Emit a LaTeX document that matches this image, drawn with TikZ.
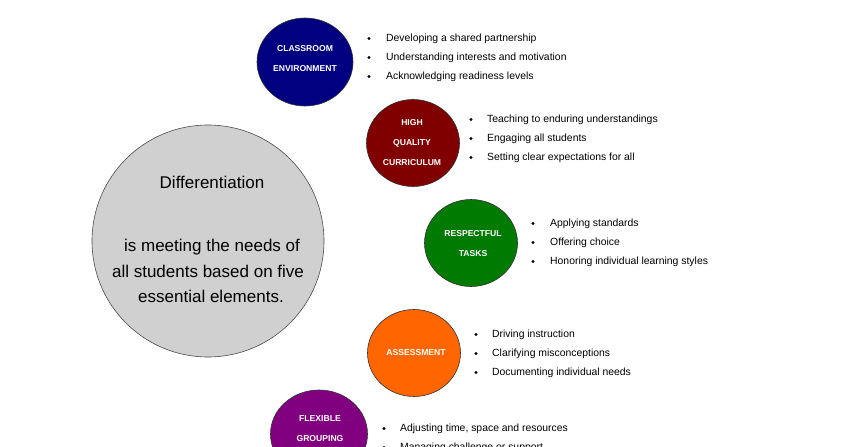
\documentclass[tikz,border=0pt]{standalone}
\usepackage{fontspec}
\setmainfont{Liberation Sans}
\usetikzlibrary{shapes.geometric}
\definecolor{cnavy}{HTML}{000080}
\definecolor{cmaroon}{HTML}{800000}
\definecolor{cgreen}{HTML}{007A00}
\definecolor{corange}{HTML}{FF6600}
\definecolor{cpurple}{HTML}{800080}
\definecolor{cgray}{HTML}{D0D0D0}
\begin{document}
\begin{tikzpicture}[x=1pt,y=-1pt,
  elem/.style={ellipse, draw=black!80, line width=0.6pt, minimum width=94pt, minimum height=88pt, inner sep=0pt},
  elabel/.style={text=white, font=\bfseries\fontsize{8.6}{20}\selectfont, align=center, inner sep=0pt},
  bigtext/.style={font=\fontsize{17}{20}\selectfont, inner sep=0pt, text height=12pt, text depth=3.5pt},
  item/.style={anchor=west, font=\fontsize{10.4}{12}\selectfont, inner sep=0pt, text height=7.5pt, text depth=2.2pt},
  dot/.style={circle, fill=black, inner sep=0pt, minimum size=3.4pt}]
\useasboundingbox (0,0) rectangle (852,447);
\fill[white] (0,0) rectangle (852,447);

% central circle
\node[circle, draw=black!70, line width=0.6pt, fill=cgray, minimum size=232pt, inner sep=0pt] (main) at (208,241) {};
\node[bigtext] (t1) at (212,184) {Differentiation};
\node[bigtext] (t2) at (212,247) {is meeting the needs of};
\node[bigtext] (t3) at (208,273) {all students based on five};
\node[bigtext] (t4) at (211,298) {essential elements.};

% classroom environment
\node[elem, fill=cnavy, minimum width=96pt, minimum height=88pt] (c1) at (305,62) {};
\node[elabel] (l1) at (305,59) {CLASSROOM\\ENVIRONMENT};
\node[dot] (b11) at (369,38.5) {}; \node[item] (i11) at (386,38.5) {Developing a shared partnership};
\node[dot] (b12) at (369,57.5) {}; \node[item] (i12) at (386,57.5) {Understanding interests and motivation};
\node[dot] (b13) at (369,76.5) {}; \node[item] (i13) at (386,76.5) {Acknowledging readiness levels};

% high quality curriculum
\node[elem, fill=cmaroon, minimum width=93pt, minimum height=87pt] (c2) at (413,143) {};
\node[elabel] (l2) at (412,143) {HIGH\\QUALITY\\CURRICULUM};
\node[dot] (b21) at (471,119.5) {}; \node[item] (i21) at (487,119.5) {Teaching to enduring understandings};
\node[dot] (b22) at (471,138.5) {}; \node[item] (i22) at (487,138.5) {Engaging all students};
\node[dot] (b23) at (471,157.5) {}; \node[item] (i23) at (487,157.5) {Setting clear expectations for all};

% respectful tasks
\node[elem, fill=cgreen, minimum width=93pt, minimum height=87pt] (c3) at (471,243) {};
\node[elabel] (l3) at (473,244) {RESPECTFUL\\TASKS};
\node[dot] (b31) at (533,223.5) {}; \node[item] (i31) at (550,223.5) {Applying standards};
\node[dot] (b32) at (533,242.5) {}; \node[item] (i32) at (550,242.5) {Offering choice};
\node[dot] (b33) at (533,261.5) {}; \node[item] (i33) at (550,261.5) {Honoring individual learning styles};

% assessment
\node[elem, fill=corange, minimum width=93pt, minimum height=87pt] (c4) at (414,353) {};
\node[elabel] (l4) at (416,353) {ASSESSMENT};
\node[dot] (b41) at (476,334.5) {}; \node[item] (i41) at (492,334.5) {Driving instruction};
\node[dot] (b42) at (476,353.5) {}; \node[item] (i42) at (492,353.5) {Clarifying misconceptions};
\node[dot] (b43) at (476,372.5) {}; \node[item] (i43) at (492,372.5) {Documenting individual needs};

% flexible grouping
\node[elem, fill=cpurple, minimum width=97pt, minimum height=88pt] (c5) at (319,434) {};
\node[elabel] (l5) at (320,429) {FLEXIBLE\\GROUPING};
\node[dot] (b51) at (384,428.5) {}; \node[item] (i51) at (400,428.5) {Adjusting time, space and resources};
\node[dot] (b52) at (384,447.5) {}; \node[item] (i52) at (400,447.5) {Managing challenge or support};
\end{tikzpicture}
\end{document}
